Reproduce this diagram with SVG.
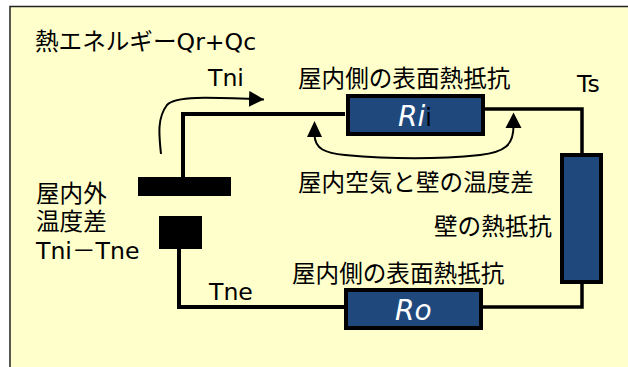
<svg xmlns="http://www.w3.org/2000/svg" width="628" height="367" viewBox="0 0 628 367">
<style>
text{font-family:"DejaVu Sans","Noto Sans CJK JP",sans-serif;font-size:23.600px;fill:#000}
.box{fill:#1f497d;stroke:#000;stroke-width:4}
.bat{fill:#000}
.w{fill:none;stroke:#000;stroke-width:4}
.c{fill:none;stroke:#000;stroke-width:2}
.val{font-style:italic;font-size:28px;fill:#fff}
</style>
<defs><marker id="a" markerUnits="userSpaceOnUse" markerWidth="16" markerHeight="16" refX="15" refY="8" orient="auto"><path d="M0 0L15 8L0 16Z" fill="#000"/></marker></defs>
<rect x="0" y="0" width="628" height="367" fill="#fff"/>
<rect x="10" y="6.500" width="618" height="361" fill="#ffffcc"/>
<path d="M10 367V6.500H628" fill="none" stroke="#222" stroke-width="1.500"/>
<g id="connectors">
<path class="w" d="M183 178V114H345"/>
<path class="w" style="stroke-width:3.500" d="M485 109H582V154"/>
<path class="w" d="M179 249V307H345"/>
<path class="w" style="stroke-width:3.500" d="M483 307H582V284"/>
<path class="c" marker-end="url(#a)" d="M161 154C159 135 157 118 167 105C175 96 205 97 264 99.500"/>
<path class="c" d="M314.500 135C315 149 325 153 345 155C390 159 440 159 480 155C505 152 513.500 145 513.500 126"/>
<path d="M314.500 121L307 137H322Z" fill="#000"/>
<path d="M513.500 112.500L505.500 128H521.500Z" fill="#000"/>
</g>
<g id="heat"><text x="35" y="50">熱エネルギーQr+Qc</text></g>
<g id="tni"><text x="208" y="86">Tni</text></g>
<g id="ts"><text x="577" y="92">Ts</text></g>
<g id="tne"><text x="209" y="300">Tne</text></g>
<g id="diff"><text x="36" y="202">屋内外</text><text x="36" y="230">温度差</text><text x="36" y="259">Tni－Tne</text></g>
<g id="label-ri"><text x="298" y="87">屋内側の表面熱抵抗</text></g>
<g id="label-air"><text x="298" y="191">屋内空気と壁の温度差</text></g>
<g id="label-wall"><text x="434" y="235">壁の熱抵抗</text></g>
<g id="label-ro"><text x="292" y="282">屋内側の表面熱抵抗</text></g>
<g id="battery-plus"><rect class="bat" x="138" y="177" width="93" height="19"/></g>
<g id="battery-minus"><rect class="bat" x="159" y="216" width="43" height="33"/></g>
<g id="ri"><rect class="box" x="348" y="96" width="135" height="38"/><text class="val" x="398" y="126">Ri<tspan style="font-style:normal;fill:#000;font-size:24px">i</tspan></text></g>
<g id="wall"><rect class="box" x="562" y="155" width="39" height="127"/></g>
<g id="ro"><rect class="box" x="346" y="290" width="135" height="38"/><text class="val" x="395" y="320">Ro</text></g>
</svg>
